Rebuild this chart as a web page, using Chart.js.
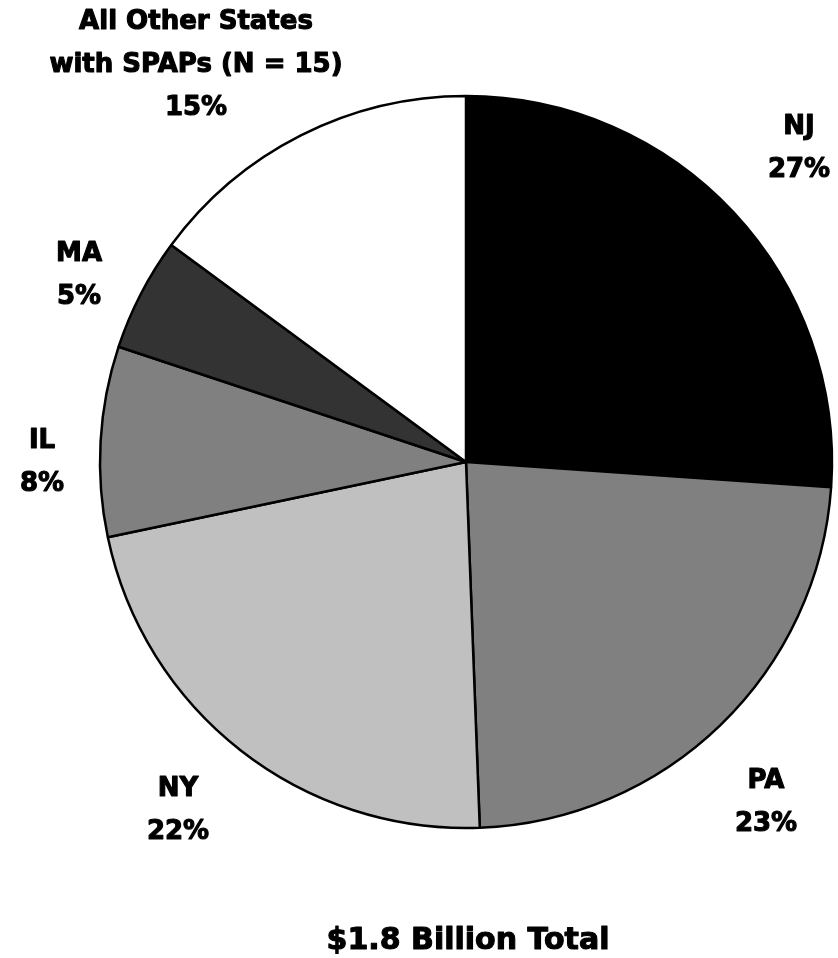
<!DOCTYPE html>
<html>
<head>
<meta charset="utf-8">
<script src="https://cdn.jsdelivr.net/npm/chart.js@4"></script>
<style>
  html, body { margin: 0; padding: 0; background: #fff; }
  #wrap { width: 838px; height: 958px; }
</style>
</head>
<body>
<div id="wrap"><canvas id="spapChart" width="838" height="958"></canvas></div>
<script>
// Share of spending by state (clockwise from 12 o'clock)
const states = ['NJ', 'PA', 'NY', 'IL', 'MA', 'All Other States|with SPAPs (N = 15)'];
const shares = [26.1, 23.3, 22.3, 8.4, 5.0, 14.9];
const pctLabels = ['27%', '23%', '22%', '8%', '5%', '15%'];
const sliceColors = ['#000000', '#808080', '#c0c0c0', '#808080', '#333333', '#ffffff'];
const totalLabel = '$1.8 Billion Total';

// label anchor offsets from the pie centre (px), Excel-style placement
const labelOffsets = [[333, -313], [300, 341], [-288, 349], [-424, 1], [-387, -186], [-270, -397]];

const labelPlugin = {
  id: 'sliceLabels',
  afterDraw(chart) {
    const c = chart.ctx;
    const arc = chart.getDatasetMeta(0).data[0];
    const cx = arc.x, cy = arc.y;
    c.save();
    c.fillStyle = '#000';
    c.strokeStyle = '#000';
    c.lineWidth = 1.1;
    c.lineJoin = 'round';
    c.font = 'bold 26px "DejaVu Sans", sans-serif';
    c.textAlign = 'center';
    c.textBaseline = 'middle';
    const lh = 43;
    states.forEach((s, i) => {
      const lines = s.split('|').concat(pctLabels[i]);
      const x = cx + labelOffsets[i][0];
      const y = cy + labelOffsets[i][1] - (lines.length - 1) * lh / 2;
      lines.forEach((ln, j) => {
        c.fillText(ln, x, y + j * lh);
        c.strokeText(ln, x, y + j * lh);
      });
    });
    c.font = 'bold 30px "DejaVu Sans", sans-serif';
    const ty = chart.chartArea.bottom + 112;
    c.fillText(totalLabel, cx + 2, ty);
    c.strokeText(totalLabel, cx + 2, ty);
    c.restore();
  }
};

new Chart(document.getElementById('spapChart').getContext('2d'), {
  type: 'pie',
  data: {
    labels: states,
    datasets: [{
      data: shares,
      backgroundColor: sliceColors,
      borderColor: '#000',
      borderWidth: 2.5
    }]
  },
  options: {
    responsive: false,
    animation: false,
    radius: 366,
    layout: { padding: { left: 99, right: 5, top: 95, bottom: 129 } },
    plugins: {
      legend: { display: false },
      tooltip: { enabled: false },
      title: { display: false }
    }
  },
  plugins: [labelPlugin]
});
</script>
</body>
</html>
